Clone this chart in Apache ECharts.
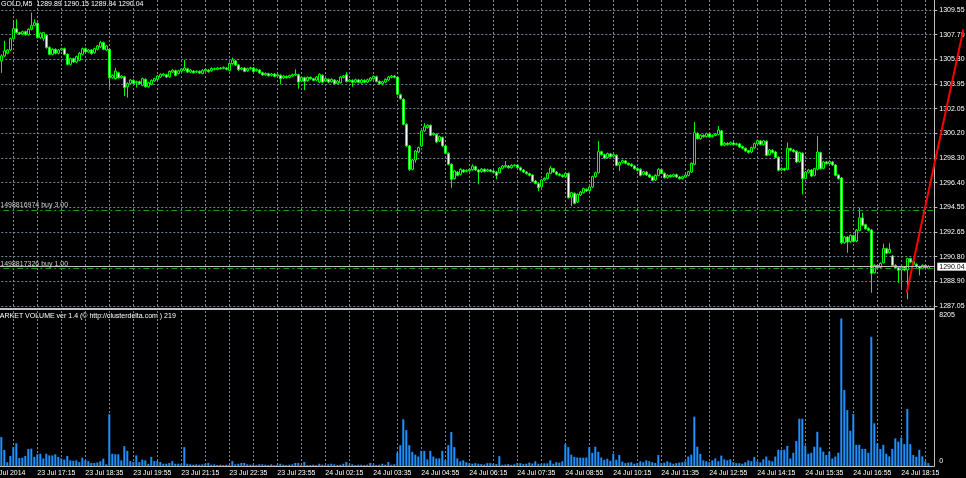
<!DOCTYPE html>
<html><head><meta charset="utf-8">
<script src="https://cdn.jsdelivr.net/npm/echarts@6/dist/echarts.min.js"></script>
<style>html,body{margin:0;padding:0;background:#000;overflow:hidden}#c{width:966px;height:478px}</style>
</head><body><div id="c"></div>
<script>
const symbolName = 'GOLD,M5';
const indicatorName = 'MARKET VOLUME ver 1.4 (\u00a9 http://clusterdelta.com ) 219';
const timeLabels = ['23 Jul 2014','23 Jul 17:15','23 Jul 18:35','23 Jul 19:55','23 Jul 21:15','23 Jul 22:35','23 Jul 23:55','24 Jul 02:15','24 Jul 03:35','24 Jul 04:55','24 Jul 06:15','24 Jul 07:35','24 Jul 08:55','24 Jul 10:15','24 Jul 11:35','24 Jul 12:55','24 Jul 14:15','24 Jul 15:35','24 Jul 16:55','24 Jul 18:15'];
const priceLabels = ['1287.05','1288.90','1290.80','1292.65','1294.55','1296.40','1298.30','1300.20','1302.05','1303.95','1305.80','1307.70','1309.55'];
const volumeLabels = ['0','8205'];

const opens = [
1305.68,1306.06,1306.26,1306.51,1307.37,1308.13,1307.83,1307.73,1307.90,1307.68,
1308.08,1308.38,1308.54,1307.45,1307.37,1307.63,1306.69,1306.18,1306.56,1306.26,
1306.51,1306.61,1306.18,1305.42,1305.85,1305.60,1305.72,1306.18,1306.61,1306.36,
1306.51,1306.31,1306.56,1306.74,1307.07,1306.51,1306.56,1304.40,1304.33,1304.78,
1304.40,1304.48,1303.72,1303.97,1304.20,1304.02,1304.10,1303.82,1304.28,1303.72,
1303.90,1304.15,1304.28,1304.45,1304.58,1304.63,1304.48,1304.83,1304.93,1304.73,
1304.91,1304.98,1305.09,1304.83,1304.91,1304.83,1304.88,1304.73,1304.93,1304.98,
1304.93,1305.09,1305.04,1305.14,1305.11,1305.14,1304.96,1305.47,1305.68,1305.37,
1305.04,1305.14,1304.93,1305.09,1305.14,1304.93,1304.98,1304.78,1304.63,1304.71,
1304.58,1304.68,1304.53,1304.58,1304.38,1304.50,1304.43,1304.53,1304.61,1304.63,
1304.15,1304.40,1304.18,1304.43,1304.33,1304.23,1304.07,1304.58,1304.15,1304.28,
1304.10,1304.23,1303.97,1304.02,1304.43,1304.63,1304.12,1304.20,1304.07,1304.23,
1304.02,1304.20,1304.07,1304.20,1304.33,1304.48,1304.12,1303.95,1304.07,1304.23,
1304.43,1304.53,1304.45,1303.11,1302.76,1300.86,1299.22,1297.44,1298.15,1298.76,
1299.22,1300.36,1300.61,1300.78,1300.07,1300.10,1299.60,1299.85,1299.22,1298.66,
1297.82,1296.73,1297.23,1297.06,1297.39,1297.28,1297.33,1297.41,1297.64,1297.39,
1297.26,1297.44,1297.31,1297.39,1297.31,1297.23,1297.18,1297.52,1297.64,1297.69,
1297.56,1297.72,1297.77,1297.56,1297.39,1297.23,1297.11,1297.01,1296.55,1296.35,
1296.12,1296.63,1296.73,1297.13,1297.49,1297.23,1297.08,1296.98,1296.88,1297.13,
1295.33,1295.61,1294.96,1295.49,1295.66,1295.92,1295.82,1296.09,1296.88,1297.18,
1298.78,1298.55,1298.33,1298.61,1298.43,1298.50,1297.77,1297.95,1298.08,1297.90,
1297.82,1297.69,1297.51,1297.44,1297.06,1297.23,1297.03,1296.88,1296.63,1296.98,
1297.41,1297.13,1296.80,1296.98,1296.90,1297.03,1296.85,1296.73,1296.85,1296.98,
1297.23,1297.82,1300.18,1299.77,1300.02,1299.92,1300.13,1299.92,1300.02,1300.10,
1300.36,1299.27,1299.42,1299.34,1299.44,1299.32,1299.37,1299.17,1299.04,1298.86,
1298.76,1299.07,1299.37,1299.60,1299.32,1299.57,1298.55,1298.89,1298.76,1298.35,
1297.39,1297.49,1297.44,1299.02,1298.91,1298.81,1298.03,1298.66,1296.75,1297.21,
1297.39,1296.98,1297.44,1298.71,1297.51,1298.00,1297.87,1298.00,1297.77,1297.01,
1296.78,1291.86,1292.29,1291.94,1292.39,1291.99,1292.80,1293.74,1293.23,1292.95,
1292.82,1289.58,1290.14,1289.99,1290.34,1291.41,1291.11,1290.85,1290.14,1289.96,
1289.79,1290.01,1289.79,1290.65,1290.42,1290.22,1290.04,1289.91,1290.14,1289.89];

const closes = [
1306.06,1306.44,1306.51,1307.37,1308.13,1307.83,1307.73,1307.90,1307.68,1308.08,
1308.38,1308.59,1307.45,1307.78,1307.83,1306.69,1306.18,1306.56,1306.26,1306.51,
1306.61,1306.18,1305.42,1305.85,1305.60,1306.01,1306.26,1306.61,1306.36,1306.51,
1306.23,1306.61,1306.82,1307.07,1306.56,1306.82,1304.40,1304.58,1304.91,1304.40,
1304.53,1303.65,1303.97,1304.23,1303.97,1304.10,1303.95,1304.33,1303.72,1304.02,
1304.20,1304.33,1304.53,1304.66,1304.68,1304.45,1304.88,1304.98,1304.58,1304.93,
1305.06,1305.14,1304.83,1304.98,1304.78,1304.88,1304.76,1304.96,1305.04,1304.86,
1305.11,1305.04,1305.14,1305.09,1305.19,1305.04,1305.49,1305.75,1305.37,1305.01,
1305.14,1304.88,1305.09,1305.16,1304.88,1305.04,1304.76,1304.61,1304.73,1304.56,
1304.68,1304.50,1304.63,1304.33,1304.53,1304.40,1304.56,1304.63,1304.68,1304.07,
1304.43,1304.12,1304.43,1304.33,1304.20,1304.45,1304.66,1304.07,1304.33,1304.07,
1304.28,1303.95,1304.15,1304.45,1304.53,1304.12,1304.23,1304.05,1304.25,1304.05,
1304.23,1304.07,1304.25,1304.38,1304.50,1304.12,1303.95,1304.10,1304.28,1304.45,
1304.53,1304.43,1303.14,1302.81,1300.86,1299.22,1297.44,1298.15,1298.83,1299.09,
1300.36,1300.68,1300.78,1300.02,1300.18,1299.52,1299.92,1299.22,1298.66,1297.82,
1296.68,1297.31,1296.98,1297.44,1297.23,1297.36,1297.44,1297.69,1297.39,1297.23,
1297.46,1297.28,1297.41,1297.28,1297.21,1296.98,1297.54,1297.69,1297.74,1297.56,
1297.74,1297.77,1297.56,1297.39,1297.23,1297.11,1296.98,1296.53,1296.37,1296.04,
1296.63,1296.75,1297.13,1297.54,1297.23,1297.06,1296.98,1296.88,1297.13,1295.28,
1295.66,1294.85,1295.54,1295.71,1295.97,1295.79,1296.09,1296.88,1297.18,1298.78,
1298.55,1298.30,1298.63,1298.40,1298.55,1297.74,1297.95,1298.10,1297.90,1297.79,
1297.69,1297.49,1297.36,1296.98,1297.26,1297.01,1296.85,1296.60,1296.98,1297.44,
1297.13,1296.80,1296.98,1296.88,1297.03,1296.85,1296.73,1296.88,1297.01,1297.26,
1297.90,1300.23,1299.77,1300.02,1299.92,1300.15,1299.90,1300.02,1300.13,1300.43,
1299.27,1299.42,1299.32,1299.47,1299.32,1299.39,1299.14,1299.04,1298.84,1298.73,
1299.09,1299.39,1299.62,1299.32,1299.60,1298.50,1298.91,1298.71,1298.35,1297.36,
1297.51,1297.39,1299.04,1298.89,1298.78,1298.00,1298.71,1296.73,1297.23,1297.39,
1296.93,1297.49,1298.76,1297.49,1298.00,1297.87,1298.03,1297.77,1296.98,1296.73,
1291.86,1292.29,1291.91,1292.42,1291.96,1292.82,1293.76,1293.18,1292.92,1292.80,
1289.53,1290.14,1289.96,1290.29,1291.41,1291.06,1291.36,1290.14,1289.94,1289.76,
1290.01,1289.79,1290.65,1290.39,1290.22,1290.04,1289.89,1290.14,1289.96,1290.04];

const highs = [
1306.18,1307.20,1306.59,1307.45,1308.79,1308.84,1307.90,1307.98,1307.98,1308.16,
1309.35,1308.84,1308.61,1307.85,1307.90,1307.70,1306.79,1306.64,1306.64,1306.59,
1306.69,1306.69,1306.26,1305.93,1305.93,1306.08,1306.34,1306.69,1306.69,1306.59,
1306.59,1306.69,1306.89,1307.20,1307.15,1306.89,1306.64,1304.66,1305.16,1304.86,
1304.61,1304.56,1304.05,1304.30,1304.28,1304.18,1304.18,1304.40,1304.35,1304.10,
1304.28,1304.40,1304.61,1304.73,1304.76,1304.71,1304.96,1305.06,1305.01,1305.01,
1305.14,1305.75,1305.16,1305.06,1304.98,1304.96,1304.96,1305.04,1305.11,1305.06,
1305.19,1305.16,1305.21,1305.21,1305.26,1305.21,1305.57,1305.93,1305.75,1305.44,
1305.21,1305.21,1305.16,1305.24,1305.21,1305.11,1305.06,1304.86,1304.81,1304.78,
1304.76,1304.76,1304.71,1304.66,1304.61,1304.58,1304.63,1304.71,1305.04,1304.71,
1304.50,1304.48,1304.50,1304.50,1304.40,1304.53,1304.73,1304.66,1304.40,1304.35,
1304.35,1304.30,1304.23,1304.53,1304.61,1304.83,1304.30,1304.28,1304.33,1304.30,
1304.30,1304.28,1304.33,1304.45,1304.58,1304.56,1304.20,1304.18,1304.35,1304.53,
1304.61,1304.61,1304.53,1303.19,1302.84,1300.94,1299.29,1298.23,1298.91,1299.17,
1300.43,1300.94,1300.86,1300.86,1300.25,1300.18,1300.00,1299.92,1299.29,1298.73,
1297.90,1297.39,1297.31,1297.52,1297.47,1297.44,1297.52,1297.82,1297.72,1297.47,
1297.54,1297.52,1297.49,1297.47,1297.39,1297.31,1297.62,1297.77,1298.07,1297.77,
1297.82,1297.84,1297.84,1297.64,1297.47,1297.31,1297.18,1297.08,1296.63,1296.42,
1296.71,1296.83,1297.21,1297.69,1297.56,1297.31,1297.16,1297.06,1297.21,1297.21,
1295.74,1295.69,1295.61,1295.79,1296.04,1295.99,1296.17,1296.96,1297.26,1299.59,
1298.86,1298.63,1298.71,1298.68,1298.63,1298.58,1298.03,1298.18,1298.15,1297.97,
1297.90,1297.77,1297.59,1297.52,1297.33,1297.31,1297.11,1296.96,1297.06,1297.52,
1297.49,1297.21,1297.06,1297.06,1297.11,1297.11,1296.93,1296.96,1297.08,1297.33,
1297.97,1301.03,1300.25,1300.10,1300.10,1300.23,1300.20,1300.10,1300.20,1300.73,
1300.43,1299.50,1299.50,1299.55,1299.52,1299.47,1299.44,1299.24,1299.09,1298.91,
1299.17,1299.47,1299.70,1299.67,1299.67,1299.65,1298.99,1298.96,1298.84,1298.43,
1297.59,1297.56,1299.47,1299.09,1298.99,1298.89,1298.78,1298.73,1297.31,1297.47,
1297.47,1297.56,1299.98,1298.78,1298.08,1298.08,1298.10,1298.08,1297.84,1297.08,
1296.86,1292.37,1292.37,1292.49,1292.47,1292.90,1294.52,1294.14,1293.31,1293.03,
1292.90,1290.22,1290.22,1290.37,1291.78,1291.49,1291.82,1290.93,1290.22,1290.04,
1290.09,1290.09,1290.72,1290.72,1290.49,1290.29,1290.11,1290.22,1290.22,1290.15];

const lows = [
1304.78,1305.98,1306.18,1306.44,1307.30,1307.75,1307.65,1307.65,1307.60,1307.60,
1308.00,1308.31,1307.37,1307.37,1307.20,1306.61,1306.11,1306.11,1306.18,1306.18,
1306.44,1306.11,1305.34,1305.34,1305.52,1305.52,1305.65,1306.11,1306.29,1306.29,
1306.16,1306.23,1306.49,1306.66,1306.49,1306.44,1303.65,1304.33,1304.25,1304.33,
1304.33,1303.01,1302.89,1303.90,1303.90,1303.65,1303.87,1303.75,1303.65,1303.65,
1303.82,1304.07,1304.20,1304.38,1304.50,1304.38,1304.40,1304.76,1304.50,1304.66,
1304.83,1304.91,1304.76,1304.76,1304.71,1304.76,1304.68,1304.66,1304.86,1304.78,
1304.86,1304.96,1304.96,1305.01,1305.04,1304.96,1304.88,1305.39,1305.29,1304.93,
1304.96,1304.81,1304.86,1305.01,1304.81,1304.86,1304.68,1304.53,1304.56,1304.48,
1304.50,1304.43,1304.45,1303.90,1304.30,1304.33,1304.35,1304.45,1304.53,1303.57,
1304.07,1303.47,1304.10,1304.25,1304.12,1304.15,1303.99,1303.99,1304.07,1303.99,
1304.02,1303.87,1303.90,1303.95,1304.35,1304.05,1304.05,1303.72,1303.99,1303.97,
1303.95,1303.99,1303.99,1304.12,1304.25,1304.05,1303.87,1303.82,1303.99,1304.15,
1304.35,1304.35,1303.06,1302.73,1300.78,1299.14,1297.31,1297.36,1297.95,1298.68,
1299.14,1300.28,1300.53,1299.95,1300.00,1299.44,1299.52,1299.14,1298.58,1297.74,
1296.04,1296.66,1296.90,1296.98,1297.16,1297.21,1297.26,1297.33,1297.31,1296.30,
1297.18,1297.21,1297.23,1297.21,1297.13,1296.68,1297.11,1297.44,1297.56,1297.49,
1297.49,1297.64,1297.49,1297.31,1297.16,1297.03,1296.90,1296.45,1296.30,1295.79,
1296.04,1296.55,1296.66,1297.06,1297.16,1296.98,1296.90,1296.80,1296.80,1295.21,
1294.65,1294.78,1294.88,1295.41,1295.59,1295.71,1295.74,1296.02,1296.80,1297.11,
1298.48,1298.23,1298.25,1298.33,1298.35,1297.67,1297.31,1297.87,1297.82,1297.72,
1297.62,1297.41,1297.28,1296.90,1296.98,1296.93,1296.78,1296.53,1296.55,1296.90,
1297.06,1296.73,1296.73,1296.80,1296.83,1296.78,1296.66,1296.66,1296.78,1296.90,
1297.16,1297.74,1299.70,1299.70,1299.85,1299.85,1299.82,1299.85,1299.95,1300.02,
1299.19,1299.19,1299.24,1299.27,1299.24,1299.24,1299.07,1298.96,1298.76,1298.63,
1298.66,1298.99,1299.29,1299.24,1299.24,1298.43,1298.48,1298.63,1298.28,1297.28,
1297.31,1297.31,1297.36,1298.81,1298.71,1297.92,1297.95,1295.54,1296.68,1297.13,
1296.85,1296.90,1297.36,1297.41,1297.44,1297.79,1297.79,1297.69,1296.90,1296.66,
1291.73,1291.78,1291.10,1291.86,1291.88,1291.91,1292.72,1293.10,1292.85,1292.72,
1288.06,1289.51,1289.89,1289.91,1290.27,1290.98,1291.03,1290.06,1289.86,1288.81,
1288.43,1289.71,1287.56,1290.32,1290.14,1289.96,1289.38,1289.84,1289.89,1289.84];

const volumes = [
1530,850,200,530,1000,1200,420,440,530,900,
920,480,620,650,400,650,560,560,620,480,
400,340,530,300,280,300,210,440,300,260,
160,160,190,250,390,90,2735,650,620,620,
300,1050,800,260,210,560,210,340,300,120,
480,260,260,210,120,120,160,260,120,120,
90,1000,120,90,70,90,70,90,120,160,
70,90,50,70,50,70,50,260,90,120,
160,160,90,70,70,50,90,90,70,50,
90,50,70,120,70,50,70,90,160,160,
50,210,50,50,70,50,120,70,50,90,
120,90,50,70,120,210,70,90,50,70,
70,50,70,160,70,50,70,120,70,210,
70,90,700,1100,2470,1900,1100,750,600,500,
800,800,350,800,500,400,400,800,300,1100,
1800,1000,400,250,300,200,150,120,150,120,
100,80,150,150,120,100,520,60,80,100,
60,90,150,150,100,120,180,130,250,120,
100,140,140,300,120,200,180,250,1150,1000,
600,480,450,440,440,450,1000,700,1020,750,
450,330,380,280,650,330,580,230,150,180,
200,120,150,250,200,300,250,200,160,580,
150,180,250,180,120,150,180,200,250,500,
600,2610,1020,640,300,250,200,300,400,250,
550,350,300,350,200,150,150,120,200,300,
250,480,250,200,350,500,300,250,500,860,
860,860,1060,400,700,1320,2500,2500,1080,650,
700,1020,1810,990,760,580,760,400,500,700,
7810,4020,2960,1870,2750,1120,1120,900,900,700,
6840,2260,1200,900,1120,650,510,900,1460,1290,
1500,1160,3020,1160,580,490,860,510,250,150];

const orderLines = [
  {ticket:'1498816974', type:'buy', lots:'3.00', price:1294.35},
  {ticket:'1498817326', type:'buy', lots:'1.00', price:1289.89}
];
const bidPrice = 1290.04;
const trendStart = [301.8, 1288.06];   // [bar index, price]
const trendEnd = [320.7, 1308.08];

const LEAD = 4, TRAIL = 2, EXTRA = 30;
const NBARS = opens.length;
const N = LEAD + NBARS + TRAIL;
const cats = Array.from({length: N}, (_, i) => String(i));
const pad = a => Array(LEAD).fill('-').concat(a, Array(TRAIL).fill('-'));
const candleData = pad(opens.map((o, i) => [o, closes[i], lows[i], highs[i]]));
const volData = pad(volumes);
const last = NBARS - 1;
const titleText = symbolName + '  ' + [opens[last], highs[last], lows[last], closes[last]].map(v => v.toFixed(2)).join(' ');

const FONT = '"Liberation Sans", Arial, sans-serif';
const GRIDC = '#778899';
const gridLine = {show: true, interval: 7, lineStyle: {color: GRIDC, type: [2, 2], width: 1}};
const pMin = 1287.05, pStep = 1.875, pMax = 1310.31;
const BW = 3; // px per bar
const GL = -10.7;

const chart = echarts.init(document.getElementById('c'), null, {renderer: 'canvas'});
chart.setOption({
  backgroundColor: '#000000',
  animation: false,
  grid: [
    {left: GL, width: BW * (N - 1), top: 0, height: 306, outerBoundsMode: 'none', containLabel: false},
    {left: GL, width: BW * (N - 1), top: 311, height: 155, outerBoundsMode: 'none', containLabel: false},
    {left: GL, width: BW * (N - 1 + EXTRA), top: 0, height: 306, outerBoundsMode: 'none', containLabel: false}
  ],
  xAxis: [
    {type: 'category', gridIndex: 0, data: cats, boundaryGap: false,
     axisLine: {show: false}, axisTick: {show: false}, axisLabel: {show: false}, splitLine: gridLine},
    {type: 'category', gridIndex: 1, data: cats, boundaryGap: false,
     axisLine: {show: true, lineStyle: {color: '#c0c0c0', width: 1}}, axisTick: {show: false},
     axisLabel: {show: true, interval: 15, align: 'left', color: '#ffffff', fontSize: 7, fontFamily: FONT, margin: 4,
       hideOverlap: false,
       formatter: (v, i) => (i % 16 === 0 && timeLabels[i / 16]) ? timeLabels[i / 16] : ''},
     splitLine: gridLine},
    {type: 'value', gridIndex: 2, min: 0, max: N - 1 + EXTRA, show: false}
  ],
  yAxis: [
    {type: 'value', gridIndex: 0, position: 'right', min: pMin, max: pMax, interval: pStep,
     axisLine: {show: false},
     axisTick: {show: true, length: 3, lineStyle: {color: '#c0c0c0'}},
     axisLabel: {color: '#ffffff', fontSize: 7, fontFamily: FONT, margin: 5, showMaxLabel: false,
       formatter: v => { const k = Math.round((v - pMin) / pStep); return Math.abs(v - (pMin + k * pStep)) < 1e-6 ? (priceLabels[k] || '') : ''; }},
     splitLine: {show: true, showMaxLine: false, lineStyle: {color: GRIDC, type: [2, 2], width: 1}}},
    {type: 'value', gridIndex: 1, position: 'right', min: 0, max: 8205, interval: 8205,
     axisLine: {show: false}, axisTick: {show: false}, splitLine: {show: false},
     axisLabel: {color: '#ffffff', fontSize: 7, fontFamily: FONT, margin: 5,
       formatter: v => v > 0 ? '{t|' + volumeLabels[1] + '}' : '{b|' + volumeLabels[0] + '}',
       rich: {t: {padding: [9, 0, 0, 0], fontSize: 7, color: '#ffffff', fontFamily: FONT},
              b: {padding: [0, 0, 9, 0], fontSize: 7, color: '#ffffff', fontFamily: FONT}}}},
    {type: 'value', gridIndex: 2, min: pMin, max: pMax, show: false}
  ],
  series: [
    {type: 'candlestick', xAxisIndex: 0, yAxisIndex: 0, data: candleData, barWidth: 2,
     silent: true,
     itemStyle: {color: '#000000', color0: '#ffffff', borderColor: '#00ff00', borderColor0: '#00ff00', borderWidth: 1},
     markLine: {symbol: 'none', silent: true, animation: false,
       data: [
         ...orderLines.map(o => ({yAxis: o.price,
            lineStyle: {color: '#1e9a1e', type: [6, 3, 2, 3], width: 1},
            label: {show: true, position: 'insideStartTop', distance: [11, 1], color: '#d0d0d0', fontSize: 7, fontFamily: FONT,
                    formatter: o.ticket + ' ' + o.type + ' ' + o.lots}})),
         {yAxis: bidPrice, lineStyle: {color: '#c0c0c0', type: 'solid', width: 1},
          label: {show: true, position: 'end', distance: 3, formatter: bidPrice.toFixed(2), color: '#000000',
                  backgroundColor: '#ffffff', padding: [1, 2, 0, 2], fontSize: 7, fontFamily: FONT}}
       ]}},
    {type: 'line', xAxisIndex: 2, yAxisIndex: 2, clip: false, symbol: 'none', silent: true,
     data: [[trendStart[0] + LEAD, trendStart[1]], [trendEnd[0] + LEAD, trendEnd[1]]],
     lineStyle: {color: '#ff0000', width: 2}},
    {type: 'bar', xAxisIndex: 1, yAxisIndex: 1, data: volData, barWidth: 2, silent: true,
     itemStyle: {color: '#1e90ff'}}
  ],
  graphic: [
    {type: 'rect', silent: true, shape: {x: 0, y: 308, width: 935, height: 2}, style: {fill: '#c0c0c0'}},
    {type: 'line', silent: true, shape: {x1: 934.5, y1: 0, x2: 934.5, y2: 466}, style: {stroke: '#c0c0c0', lineWidth: 1}},
    {type: 'text', silent: true, x: 1, y: 4, style: {text: titleText, fill: '#ffffff', font: '7px ' + FONT, verticalAlign: 'middle'}},
    {type: 'text', silent: true, x: -6, y: 316.5, style: {text: indicatorName, fill: '#ffffff', font: '7px ' + FONT, verticalAlign: 'middle'}}
  ]
});
</script>
</body></html>
